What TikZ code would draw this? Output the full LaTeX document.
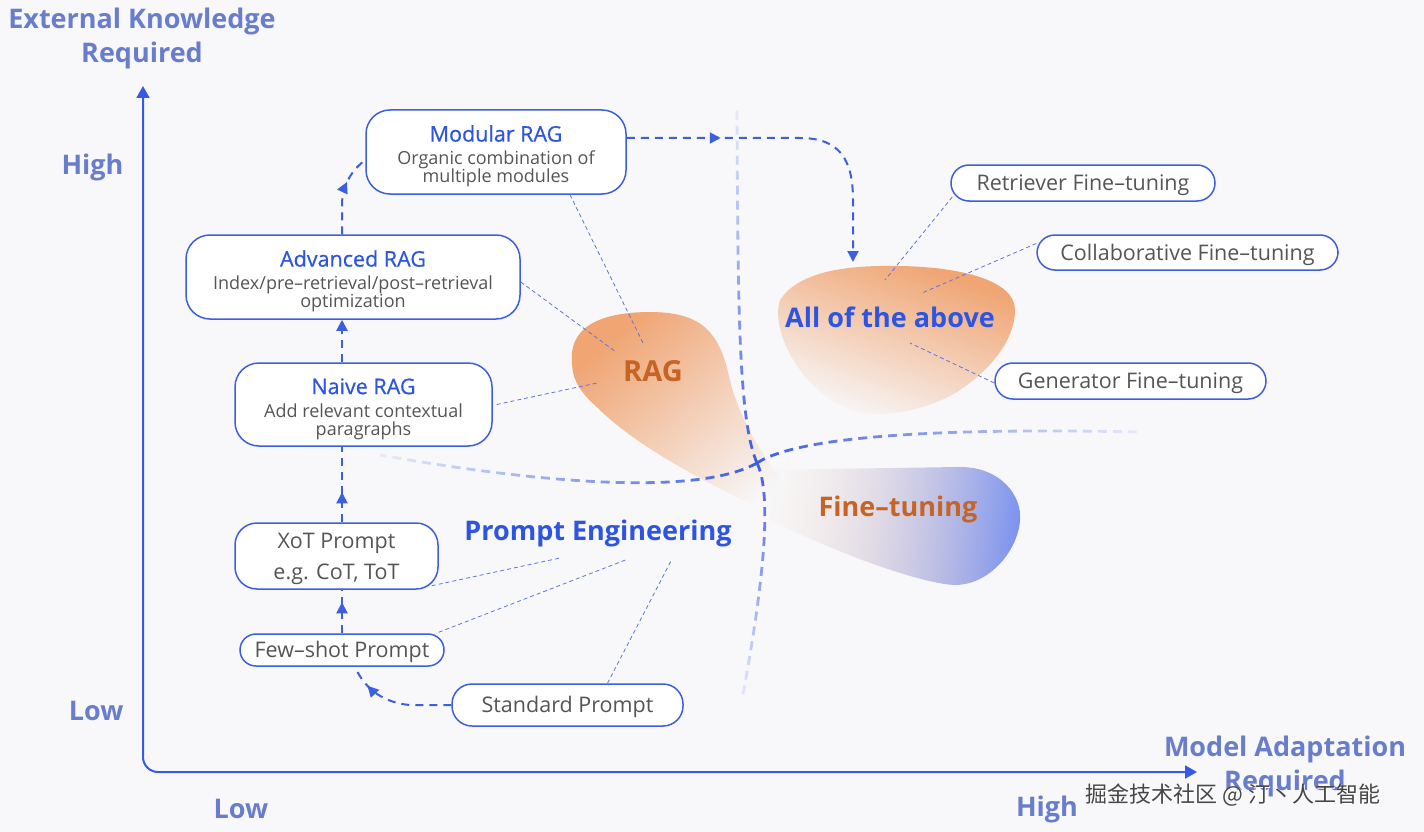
\documentclass[tikz,border=0pt]{standalone}
\usepackage{fontspec}
\setmainfont{Open Sans}
\newfontfamily\cjkfont{Noto Sans CJK SC}
\newfontfamily\titlefam[FakeBold=0.6]{Open Sans}
\usetikzlibrary{arrows.meta,decorations.markings,fadings,calc}
\definecolor{bg}{RGB}{248,248,250}
\definecolor{axisblue}{RGB}{55,90,230}
\definecolor{boxblue}{RGB}{60,95,225}
\definecolor{titleblue}{RGB}{45,85,225}
\definecolor{labelblue}{RGB}{105,125,205}
\definecolor{txtgray}{RGB}{85,85,85}
\definecolor{leaderc}{RGB}{95,115,225}
\definecolor{ragorange}{RGB}{240,165,115}
\definecolor{lightorange}{RGB}{250,210,180}
\definecolor{ftblue}{RGB}{120,145,240}
\definecolor{orangetxt}{RGB}{200,100,35}
\definecolor{dashblue}{RGB}{60,95,225}
\definecolor{wmgray}{RGB}{70,70,70}
\tikzfading[name=fadeA, left color=transparent!0, middle color=transparent!30, right color=transparent!100]
\tikzfading[name=fadeHalf, left color=transparent!0, middle color=transparent!0, right color=transparent!92]
\newcommand\boxtitle{\rule{0pt}{24.5pt}\titlefam\fontsize{21.5}{24}\selectfont\color{titleblue}}
\newcommand\upstrut{\rule{0pt}{21pt}}
\newcommand\xotstrut{\rule{0pt}{22pt}}
\begin{document}
\begin{tikzpicture}[x=1pt,y=-1pt,
 box/.style={draw=boxblue, line width=1.5pt, fill=white, rounded corners=#1, align=center, text=txtgray, inner sep=0pt},
 box/.default=20pt,
 sub/.style={font=\fontsize{18}{18}\selectfont},
 btxt/.style={font=\fontsize{21.5}{22}\selectfont},
 conn/.style={color=dashblue, line width=2pt, dash pattern=on 8pt off 6pt},
 leader/.style={draw=leaderc, line width=0.8pt, dash pattern=on 4pt off 3pt},
 bound/.style={draw=dashblue, line width=2.8pt, dash pattern=on 9pt off 6pt},
 midarrow/.style={postaction={decorate}, decoration={markings, mark=at position #1 with {\arrow{Triangle[length=11pt,width=11pt]}}}},
 endtip/.style={-{Triangle[length=11pt,width=11pt]}},
 axlabel/.style={text=labelblue, font=\fontsize{27}{34}\selectfont\bfseries, align=center},
 big/.style={font=\fontsize{27}{30}\selectfont\bfseries},
]
\useasboundingbox (0,0) rectangle (1424,832);
\fill[bg] (0,0) rectangle (1424,832);

% ---- blobs ----
\fill[ragorange, path fading=fadeA, fading angle=-45]
 (572,360) .. controls (570,322) and (610,312) .. (650,312)
 .. controls (700,312) and (720,330) .. (730,380)
 .. controls (745,440) and (790,490) .. (805,515)
 -- (785,520) .. controls (720,490) and (640,450) .. (598,408)
 .. controls (580,392) and (572,380) .. (572,360) -- cycle;
\fill[ragorange, path fading=fadeA, fading angle=240]
 (780,300) .. controls (800,270) and (850,265) .. (900,266)
 .. controls (960,267) and (1015,280) .. (1015,310)
 .. controls (1015,340) and (990,370) .. (960,390)
 .. controls (930,410) and (880,420) .. (850,410)
 .. controls (800,390) and (770,330) .. (780,300) -- cycle;
\shade[left color=lightorange, right color=ftblue, path fading=fadeA, fading angle=175]
 (760,470) -- (960,467) .. controls (1000,467) and (1022,495) .. (1020,520)
 .. controls (1018,550) and (990,585) .. (955,585)
 .. controls (930,585) and (850,560) .. (770,520) -- cycle;

% ---- boundary curves ----
\coordinate (cross) at (757,463);
\draw[bound, path fading=fadeHalf, fading angle=90] (cross) .. controls (738,420) and (738,300) .. (737,108);
\draw[bound, path fading=fadeHalf, fading angle=-90] (cross) .. controls (770,490) and (768,560) .. (742,700);
\draw[bound, path fading=fadeHalf, fading angle=180] (cross) .. controls (700,495) and (550,485) .. (380,455);
\draw[bound, path fading=fadeHalf, fading angle=0] (cross) .. controls (800,435) and (950,428) .. (1140,432);

% ---- axes ----
\coordinate (ytop) at (143,86);
\coordinate (origin) at (143,772);
\coordinate (xend) at (1197,772);
\draw[axisblue, line width=2pt, rounded corners=15pt, {Triangle[length=12pt,width=13pt]}-{Triangle[length=12pt,width=13pt]}] (ytop) -- (origin) -- (xend);
\node[axlabel] (ylab) at (142,38) {External Knowledge\\Required};
\node[axlabel] (xlab) at (1285,766) {Model Adaptation\\Required};
\node[axlabel, anchor=east] (yhigh) at (127,167) {High};
\node[axlabel, anchor=east] (ylow) at (127,711) {Low};
\node[axlabel] (xlow) at (241,809) {Low};
\node[axlabel] (xhigh) at (1047,809) {High};

% ---- region labels ----
\node[big, text=orangetxt, font=\fontsize{29}{30}\selectfont\bfseries] (ragl) at (653,371) {RAG};
\node[big, text=orangetxt] (ftl) at (898,509) {Fine–tuning};
\node[big, text=titleblue] (alll) at (890,317) {All of the above};
\node[big, text=titleblue] (pel) at (598,533) {Prompt Engineering};

% ---- boxes ----
\node[box=24pt, sub, minimum width=260pt, minimum height=84pt] (modular) at (496,152)
 {\boxtitle Modular RAG\\[5pt]Organic combination of\\multiple modules};
\node[box=24pt, sub, minimum width=334pt, minimum height=84pt] (advanced) at (353,277)
 {\boxtitle Advanced RAG\\[5pt]Index/pre–retrieval/post–retrieval\\optimization};
\node[box=24pt, sub, minimum width=257pt, minimum height=83pt] (naive) at (363.5,404.5)
 {\boxtitle Naive RAG\\[5pt]Add relevant contextual\\paragraphs};
\node[box=22pt, btxt, minimum width=203pt, minimum height=66pt] (xot) at (336.5,556)
 {\xotstrut XoT Prompt\\[9pt]e.g. CoT, ToT};
\node[box=16pt, btxt, minimum width=204pt, minimum height=32pt] (few) at (342,650) {\upstrut Few–shot Prompt};
\node[box=20pt, btxt, minimum width=231pt, minimum height=42pt] (standard) at (567.5,705) {\upstrut Standard Prompt};
\node[box=18pt, btxt, minimum width=264pt, minimum height=36pt] (retr) at (1083,183) {\upstrut Retriever Fine–tuning};
\node[box=18pt, btxt, minimum width=301pt, minimum height=35pt] (collab) at (1187.5,252.5) {\upstrut Collaborative Fine–tuning};
\node[box=18pt, btxt, minimum width=271pt, minimum height=36pt] (gen) at (1130.5,381) {\upstrut Generator Fine–tuning};

% ---- leader lines ----
\draw[leader] ([xshift=74pt]modular.south) -- (643,343);
\draw[leader] (advanced.east) ++(0,5) -- (616,352);
\draw[leader] (naive.east) ++(4,0) -- (597,383);
\draw[leader] ([xshift=-7pt,yshift=4pt]xot.south east) -- (560,558);
\draw[leader] ([xshift=-6pt,yshift=1pt]few.north east) -- (628,559);
\draw[leader] ([xshift=40pt]standard.north) -- (672,559);
\draw[leader] ([xshift=2pt,yshift=-14pt]retr.west) -- (885,280);
\draw[leader] ([yshift=9pt]collab.west) -- (922,293);
\draw[leader] ([yshift=-2pt]gen.west) -- (910,343);

% ---- progression connectors ----
\coordinate (xl) at (342,0);
\coordinate (allin) at (853,262);
\draw[conn, midarrow=89pt] (standard.west) -- (410,705) .. controls (385,703) and (365,690) .. ([xshift=13pt]few.south);
\draw[conn, midarrow=31pt] (few.north -| xl) -- (xot.south -| xl);
\draw[conn, midarrow=30pt] (xot.north -| xl) -- (naive.south -| xl);
\draw[conn, endtip] (naive.north -| xl) -- (advanced.south -| xl);
\draw[conn, midarrow=53pt] (advanced.north -| xl) -- (342,205) .. controls (342,185) and (352,170) .. ([yshift=-8pt]modular.west);
\draw[conn, midarrow=94pt, endtip] ([yshift=14pt]modular.east) -- (800,138) .. controls (840,138) and (853,160) .. (853,200) -- (allin);

% ---- watermark ----
\node[text=white, font=\cjkfont\fontsize{22}{24}\selectfont] (wm2) at (1234,796) {掘金技术社区 @ 汀丶人工智能};
\node[text=wmgray, font=\cjkfont\fontsize{22}{24}\selectfont] (wm) at (1233,795) {掘金技术社区 @ 汀丶人工智能};
\end{tikzpicture}
\end{document}
